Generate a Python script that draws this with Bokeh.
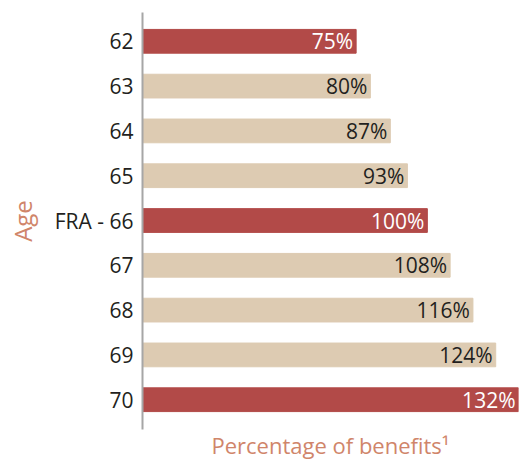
from bokeh.plotting import figure
from bokeh.models import Range1d, FixedTicker, ColumnDataSource
from bokeh.core.properties import value
from bokeh.embed import file_html
from bokeh.resources import INLINE

# ---- data ----
ages = ["62", "63", "64", "65", "FRA - 66", "67", "68", "69", "70"]
benefits = [75, 80, 87, 93, 100, 108, 116, 124, 132]
highlighted = ["62", "FRA - 66", "70"]

# ---- styles ----
RED = "#B24A48"
BEIGE = "#DDCBB2"
ACCENT = "#D0856A"
INK = "#231F20"
FONT = "Open Sans"

pos = list(range(len(ages)))
colors = [RED if a in highlighted else BEIGE for a in ages]
label_colors = ["#FFFFFF" if a in highlighted else INK for a in ages]
labels = [f"{v}%" for v in benefits]

src = ColumnDataSource(dict(pos=pos, age=ages, benefit=benefits, color=colors,
                            label=labels, label_color=label_colors))

p = figure(width=520, height=462, output_backend="svg", toolbar_location=None,
           x_range=Range1d(0, max(benefits)), y_range=Range1d(8.665, -0.643),
           min_border_left=142, min_border_right=2, min_border_top=12, min_border_bottom=0)

p.hbar(y="pos", left=0, right="benefit", height=0.53, color="color", source=src)
p.text(x="benefit", y="pos", text="label", text_color="label_color", x_offset=-3,
       text_align="right", text_baseline="middle", text_font=value(FONT),
       text_font_size="21px", source=src)

# y axis
ya = p.yaxis[0]
ya.ticker = FixedTicker(ticks=pos)
ya.major_label_overrides = {i: a for i, a in enumerate(ages)}
ya.axis_line_color = "#A6A6A6"
ya.axis_line_width = 2
ya.major_tick_line_color = None
ya.minor_tick_line_color = None
ya.major_tick_out = 0
ya.major_label_standoff = 9
ya.major_label_text_font = FONT
ya.major_label_text_font_size = "21px"
ya.major_label_text_color = INK
ya.axis_label = "Age"
ya.axis_label_text_font = FONT
ya.axis_label_text_font_size = "24px"
ya.axis_label_text_font_style = "normal"
ya.axis_label_text_color = ACCENT
ya.axis_label_standoff = 13

# x axis
xa = p.xaxis[0]
xa.ticker = FixedTicker(ticks=[])
xa.axis_line_color = None
xa.major_tick_line_color = None
xa.minor_tick_line_color = None
xa.major_tick_out = 0
xa.major_label_standoff = 0
xa.axis_label = "Percentage of benefits\u00b9"
xa.axis_label_text_font = FONT
xa.axis_label_text_font_size = "22px"
xa.axis_label_text_font_style = "normal"
xa.axis_label_text_color = ACCENT
xa.axis_label_standoff = 0

p.grid.visible = False
p.outline_line_color = None
p.background_fill_color = "white"
p.border_fill_color = "white"

open("out.html", "w").write(file_html(p, INLINE))
